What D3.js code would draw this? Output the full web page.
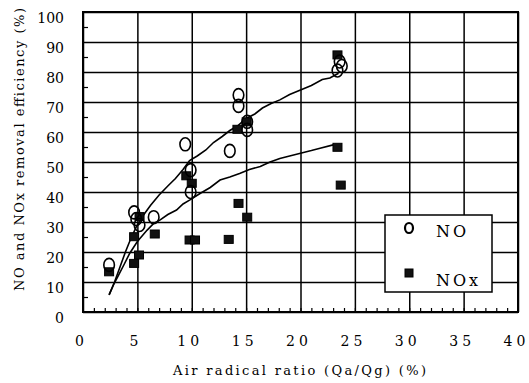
<!DOCTYPE html>
<html>
<head>
<meta charset="utf-8">
<script src="https://cdn.jsdelivr.net/npm/d3@7"></script>
<style>
  body { margin: 0; background: #fff; }
</style>
</head>
<body>
<div id="chart"></div>
<script>
// font used for all labels
var serif = "'DejaVu Serif', serif";

// measured NO points (x = air radical ratio %, y = removal efficiency %)
var noX = [2.4, 4.7, 4.9, 5.2, 6.5, 9.4, 9.9, 9.9, 13.5, 14.3, 14.3, 15.1, 15.1, 23.6, 23.8, 23.4];
var noY = [15.7, 33.2, 31, 29, 31.6, 55.9, 47.3, 40, 53.7, 72.3, 68.7, 63.4, 60.7, 83.5, 82, 80.5];

// measured NOx points
var noxX = [2.4, 4.7, 4.7, 5.2, 5.15, 6.6, 9.8, 10.3, 13.4, 14.3, 15.1, 9.5, 10.0, 14.2, 15.05, 23.4, 23.4, 23.7];
var noxY = [13.4, 25.1, 16.2, 31.8, 19, 26, 24, 24, 24.2, 36.2, 31.6, 45.4, 42.9, 60.9, 63.4, 85.7, 54.9, 42.3];

// fitted curves
var noFitX = [2.4, 2.9, 3.4, 3.9, 4.4, 4.9, 5.5, 6.2, 7.0, 7.8, 8.5, 9.2, 9.8, 10.5, 11.3, 12.0, 12.8, 13.5, 14.2, 15.0, 15.8, 16.5, 17.3, 18.1, 19.0, 20.0, 21.0, 22.0, 22.7, 23.5];
var noFitY = [5.7, 10, 15, 20, 24.5, 28.4, 32, 35.5, 39, 42, 44.5, 47.5, 50.5, 52, 54, 56.5, 58.5, 60.5, 62, 64.5, 66, 68, 69.5, 70.7, 72.5, 74, 75.5, 77.5, 78, 79.6];
var noxFitX = [2.4, 2.8, 3.2, 3.8, 4.3, 5.0, 5.9, 6.5, 7.1, 7.8, 8.6, 9.2, 9.8, 10.8, 11.7, 12.6, 13.5, 14.4, 15.3, 16.3, 17.2, 18.1, 19.0, 20.0, 21.0, 21.8, 23.0];
var noxFitY = [5.7, 9, 11.8, 16, 19.6, 23.5, 27.3, 29.5, 30.7, 32.5, 34, 36, 37.3, 39.6, 41.5, 44, 45, 46.2, 47.5, 48.5, 50, 51.2, 52, 52.9, 53.8, 54.6, 55.7];

// axis ticks
var xTicks = [0, 5, 10, 15, 20, 25, 30, 35, 40];
var yTicks = [0, 10, 20, 30, 40, 50, 60, 70, 80, 90, 100];
var legendNames = ["NO", "NOx"];

// svg size and margins
var svgWidth = 529;
var svgHeight = 383;
var margin = { top: 12, right: 11, bottom: 71, left: 83 };
var chartWidth = svgWidth - margin.left - margin.right;
var chartHeight = svgHeight - margin.top - margin.bottom;

var svg = d3.select("#chart").append("svg")
    .attr("width", svgWidth)
    .attr("height", svgHeight)
    .attr("font-family", serif);

var chartGroup = svg.append("g")
    .attr("transform", `translate(${margin.left}, ${margin.top})`);

// scales
var xScale = d3.scaleLinear().domain([0, 40]).range([0, chartWidth]);
var yScale = d3.scaleLinear().domain([0, 100]).range([chartHeight, 0]);

// grid lines
chartGroup.append("g")
    .call(d3.axisBottom(xScale).tickValues(xTicks).tickSize(chartHeight).tickFormat(""))
    .call(g => g.select(".domain").remove())
    .selectAll("line").attr("stroke", "#000").attr("stroke-width", 1.5);

chartGroup.append("g")
    .call(d3.axisLeft(yScale).tickValues(yTicks).tickSize(-chartWidth).tickFormat(""))
    .call(g => g.select(".domain").remove())
    .selectAll("line").attr("stroke", "#000").attr("stroke-width", 1.5);

// minor ticks on the inside
chartGroup.append("g")
    .attr("transform", `translate(0, ${chartHeight})`)
    .call(d3.axisBottom(xScale).tickValues(d3.range(1, 40)).tickSize(-4).tickFormat(""))
    .call(g => g.select(".domain").remove())
    .selectAll("line").attr("stroke", "#000").attr("stroke-width", 1.2);

chartGroup.append("g")
    .call(d3.axisLeft(yScale).tickValues(d3.range(5, 100, 10)).tickSize(-5).tickFormat(""))
    .call(g => g.select(".domain").remove())
    .selectAll("line").attr("stroke", "#000").attr("stroke-width", 1.2);

// tick labels
chartGroup.append("g")
    .attr("transform", `translate(-2, ${chartHeight})`)
    .call(d3.axisBottom(xScale).tickValues(xTicks).tickSize(0).tickPadding(24))
    .call(g => g.select(".domain").remove())
    .attr("font-family", serif)
    .selectAll("text")
    .style("font-size", "14px")
    .style("letter-spacing", "4px");

chartGroup.append("g")
    .call(d3.axisLeft(yScale).tickValues(yTicks).tickSize(0).tickPadding(19))
    .call(g => g.select(".domain").remove())
    .attr("font-family", serif)
    .selectAll("text")
    .attr("dy", "0.72em")
    .style("font-size", "14px")
    .style("letter-spacing", "0px");

// fitted curves
var line = d3.line()
    .x(d => xScale(d[0]))
    .y(d => yScale(d[1]));

chartGroup.append("path")
    .datum(noFitX.map((x, i) => [x, noFitY[i]]))
    .attr("d", line)
    .attr("fill", "none")
    .attr("stroke", "#000")
    .attr("stroke-width", 1.6);

chartGroup.append("path")
    .datum(noxFitX.map((x, i) => [x, noxFitY[i]]))
    .attr("d", line)
    .attr("fill", "none")
    .attr("stroke", "#000")
    .attr("stroke-width", 1.6);

// NOx squares
chartGroup.selectAll(".nox")
    .data(noxX.map((x, i) => [x, noxY[i]]))
    .enter()
    .append("rect")
    .attr("class", "nox")
    .attr("x", d => xScale(d[0]) - 4.5)
    .attr("y", d => yScale(d[1]) - 4)
    .attr("width", 9)
    .attr("height", 8)
    .attr("fill", "#111")
    .attr("stroke", "#000");

// NO circles
chartGroup.selectAll(".no")
    .data(noX.map((x, i) => [x, noY[i]]))
    .enter()
    .append("ellipse")
    .attr("class", "no")
    .attr("cx", d => xScale(d[0]))
    .attr("cy", d => yScale(d[1]))
    .attr("rx", 5.3)
    .attr("ry", 6.5)
    .attr("fill", "none")
    .attr("stroke", "#000")
    .attr("stroke-width", 1.6);

// frame
chartGroup.append("rect")
    .attr("width", chartWidth)
    .attr("height", chartHeight)
    .attr("fill", "none")
    .attr("stroke", "#000")
    .attr("stroke-width", 2);

// legend
var legend = svg.append("g").attr("transform", "translate(385, 215)");
legend.append("rect")
    .attr("width", 107)
    .attr("height", 77)
    .attr("fill", "#fff")
    .attr("stroke", "#000")
    .attr("stroke-width", 1.5);
legend.append("ellipse")
    .attr("cx", 24).attr("cy", 13)
    .attr("rx", 4).attr("ry", 5)
    .attr("fill", "none").attr("stroke", "#000").attr("stroke-width", 2.2);
legend.append("rect")
    .attr("x", 20).attr("y", 54)
    .attr("width", 8).attr("height", 8)
    .attr("fill", "#111").attr("stroke", "#000");
legend.selectAll(".legtext")
    .data(legendNames)
    .enter()
    .append("text")
    .attr("x", 51)
    .attr("y", (d, i) => 22 + i * 49)
    .style("font-size", "16px")
    .style("letter-spacing", "3px")
    .text(d => d);

// axis titles
svg.append("text")
    .attr("x", 173)
    .attr("y", 375)
    .attr("textLength", 253)
    .attr("lengthAdjust", "spacing")
    .style("font-size", "13px")
    .text("Air radical ratio (Qa/Qg) (%)");

svg.append("text")
    .attr("transform", "translate(24, 291) rotate(-90)")
    .attr("textLength", 283)
    .attr("lengthAdjust", "spacing")
    .style("font-size", "13px")
    .text("NO and NOx removal efficiency (%)");
</script>
</body>
</html>
